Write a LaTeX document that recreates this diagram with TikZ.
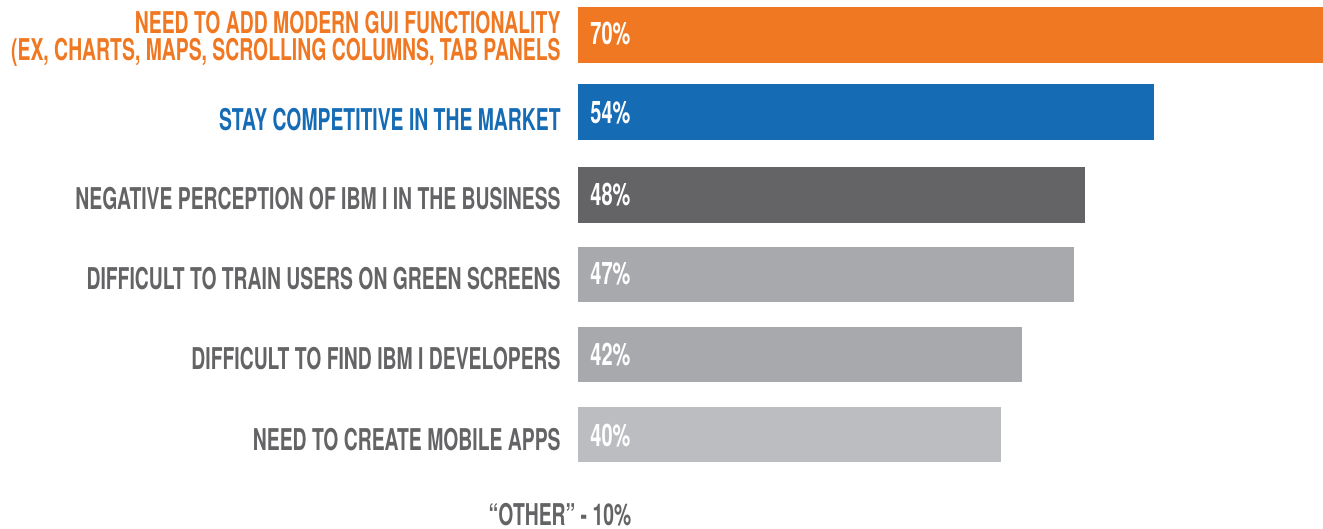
\documentclass[tikz,border=0pt]{standalone}
\usepackage{fontspec}
\newfontfamily\condfont[FakeStretch=0.645]{TeX Gyre Heros}
\usepackage{tikz}

\definecolor{gui}{HTML}{F07822}
\definecolor{market}{HTML}{166BB5}
\definecolor{darkbar}{HTML}{646466}
\definecolor{midbar}{HTML}{A8A9AD}
\definecolor{lightbar}{HTML}{BCBDC1}

\tikzset{
        label/.style={inner sep=0pt, anchor=base east, font=\condfont\bfseries\fontsize{15}{17}\selectfont},
        pct/.style={inner sep=0pt, anchor=base west, text=white, font=\condfont\bfseries\fontsize{15.5}{17}\selectfont}
}

\begin{document}
\begin{tikzpicture}[x=0.5pt, y=-0.5pt]
        \useasboundingbox (0,0) rectangle (1323,529);

        % bars
        \fill[gui] (578,7) rectangle (1323,63);
        \fill[market] (578,84) rectangle (1154,140);
        \fill[darkbar] (578,167) rectangle (1085,223);
        \fill[midbar] (578,247) rectangle (1074,302);
        \fill[midbar] (578,327) rectangle (1022,382);
        \fill[lightbar] (578,407) rectangle (1001,462);

        % reasons
        \node[label, text=gui] (gui1) at (561,34) {NEED TO ADD MODERN GUI FUNCTIONALITY};
        \node[label, text=gui] (gui2) at (561,61) {(EX, CHARTS, MAPS, SCROLLING COLUMNS, TAB PANELS};
        \node[label, text=market] (compete) at (561,131) {STAY COMPETITIVE IN THE MARKET};
        \node[label, text=darkbar] (perception) at (561,210) {NEGATIVE PERCEPTION OF IBM I IN THE BUSINESS};
        \node[label, text=darkbar] (train) at (561,290) {DIFFICULT TO TRAIN USERS ON GREEN SCREENS};
        \node[label, text=darkbar] (find) at (561,370) {DIFFICULT TO FIND IBM I DEVELOPERS};
        \node[label, text=darkbar] (mobile) at (561,450) {NEED TO CREATE MOBILE APPS};

        % values
        \node[pct] (v70) at (590,45) {70\%};
        \node[pct] (v54) at (590,124) {54\%};
        \node[pct] (v48) at (590,206) {48\%};
        \node[pct] (v47) at (590,285) {47\%};
        \node[pct] (v42) at (590,365) {42\%};
        \node[pct] (v40) at (590,446) {40\%};

        \node[label, anchor=base, text=darkbar] (other) at (560,525) {“OTHER” - 10\%};

\end{tikzpicture}
\end{document}
